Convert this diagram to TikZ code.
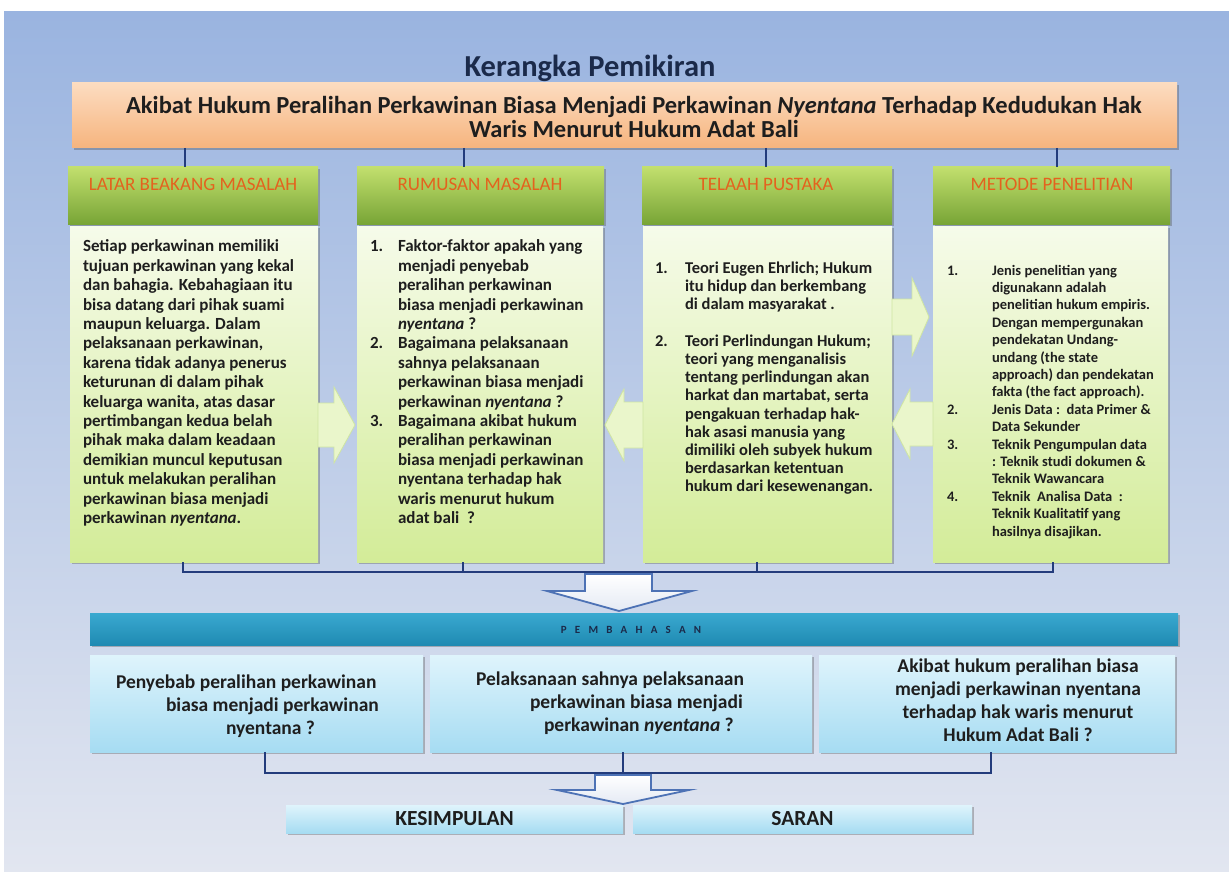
\documentclass[tikz,border=0pt]{standalone}
\usepackage{fontspec}
\setmainfont{Carlito}
\usetikzlibrary{shadows}

\definecolor{bgtop}{HTML}{9AB4E0}
\definecolor{bgmid}{HTML}{BFCDEA}
\definecolor{bgbot}{HTML}{E2E6F0}
\definecolor{orgtop}{HTML}{FCDCC0}
\definecolor{orgbot}{HTML}{F6B47E}
\definecolor{grntop}{HTML}{C2DF6E}
\definecolor{grnbot}{HTML}{78A536}
\definecolor{bodytop}{HTML}{F6FBEA}
\definecolor{bodybot}{HTML}{D3EC98}
\definecolor{arrfill}{HTML}{EAF6CB}
\definecolor{arrline}{HTML}{CFE5A2}
\definecolor{navy}{HTML}{233C7C}
\definecolor{hdrtxt}{HTML}{E4621E}
\definecolor{txt}{HTML}{1E1E1E}
\definecolor{bartop}{HTML}{3AA9D0}
\definecolor{barmid}{HTML}{6FCBE6}
\definecolor{barbot}{HTML}{1F8AB2}
\definecolor{cyntop}{HTML}{DFF4FC}
\definecolor{cynbot}{HTML}{A6DCF2}
\definecolor{arrblue}{HTML}{4D72B5}
\definecolor{ttl}{HTML}{1B2A4A}

% numbered list helpers
\newcommand\lnum[2]{\makebox[#1][l]{#2}}
\newcommand\lind[1]{\hspace*{#1}}

\begin{document}
\begin{tikzpicture}[x=1pt,y=-1pt,
  every node/.style={inner sep=0pt,outer sep=0pt},
  boxshadow/.style={drop shadow={shadow xshift=1.5pt,shadow yshift=-2pt,opacity=.35,fill=black!70}},
  topbox/.style={rectangle,anchor=north west,top color=orgtop,bottom color=orgbot,boxshadow},
  hdrbox/.style={rectangle,anchor=north west,minimum height=57pt,top color=grntop,bottom color=grnbot,boxshadow},
  bodybox/.style={rectangle,anchor=north west,minimum height=336pt,top color=bodytop,bottom color=bodybot,boxshadow},
  hdrlabel/.style={text=hdrtxt,font=\fontsize{19}{21}\selectfont},
  coltext/.style={anchor=north west,align=left,text=txt},
  conn/.style={draw=navy,line width=2.6pt},
  blockarrow/.style={fill=arrfill,draw=arrline,line width=0.8pt},
  downarrow/.style={top color=white,bottom color=white!85!arrblue,draw=arrblue,line width=1.8pt,line join=miter},
  cyanbox/.style={rectangle,anchor=north west,top color=cyntop,bottom color=cynbot,boxshadow},
  cyantext/.style={text=txt,font=\fontsize{19.5}{23}\selectfont\bfseries}
]
\useasboundingbox (0,0) rectangle (1229,872);

% page background
\fill[white] (0,0) rectangle (1229,872);
\shade[top color=bgtop,middle color=bgmid,bottom color=bgbot] (4,12) rectangle (1229,872);

% heading
\node[text=ttl,font=\fontsize{30.5}{33}\selectfont\bfseries] (title) at (590,68) {Kerangka Pemikiran};

\node[topbox,minimum width=1105pt,minimum height=65pt] (topic) at (72,83) {};
\node[align=center,text=txt,font=\fontsize{24.5}{24}\selectfont\bfseries] (topictext) at (634,117)
  {Akibat Hukum Peralihan Perkawinan Biasa Menjadi Perkawinan \textit{Nyentana} Terhadap Kedudukan Hak\\
   Waris Menurut Hukum Adat Bali};

% column headers
\node[hdrbox,minimum width=250pt] (h1) at (68,167) {};
\node[hdrbox,minimum width=247pt] (h2) at (357,167) {};
\node[hdrbox,minimum width=250pt] (h3) at (642,167) {};
\node[hdrbox,minimum width=237pt] (h4) at (933,167) {};
\node[hdrlabel] (h1l) at (193,184) {LATAR BEAKANG MASALAH};
\node[hdrlabel] (h2l) at (480,184) {RUMUSAN MASALAH};
\node[hdrlabel] (h3l) at (766,184) {TELAAH PUSTAKA};
\node[hdrlabel] (h4l) at (1052,184) {METODE PENELITIAN};

% column bodies
\node[bodybox,minimum width=248pt] (b1) at (70,226) {};
\node[bodybox,minimum width=246pt] (b2) at (357,226) {};
\node[bodybox,minimum width=249pt] (b3) at (643,226) {};
\node[bodybox,minimum width=235pt] (b4) at (933,226) {};

% connectors from the topic to the headers
\coordinate (k1) at (185,0);
\coordinate (k2) at (464,0);
\coordinate (k3) at (766,0);
\coordinate (k4) at (1057,0);
\draw[conn] (topic.south -| k1) -- (h1.north -| k1);
\draw[conn] (topic.south -| k2) -- (h2.north -| k2);
\draw[conn] (topic.south -| k3) -- (h3.north -| k3);
\draw[conn] (topic.south -| k4) -- (h4.north -| k4);

% column texts
\node[coltext,font=\fontsize{17}{19.4}\selectfont\bfseries] (t1) at (83,240)
 {Setiap perkawinan memiliki\\
  tujuan perkawinan yang kekal\\
  dan bahagia. Kebahagiaan itu\\
  bisa datang dari pihak suami\\
  maupun keluarga. Dalam\\
  pelaksanaan perkawinan,\\
  karena tidak adanya penerus\\
  keturunan di dalam pihak\\
  keluarga wanita, atas dasar\\
  pertimbangan kedua belah\\
  pihak maka dalam keadaan\\
  demikian muncul keputusan\\
  untuk melakukan peralihan\\
  perkawinan biasa menjadi\\
  perkawinan \textit{nyentana}.};

\node[coltext,font=\fontsize{17}{19.4}\selectfont\bfseries] (t2) at (370,240)
 {\lnum{28pt}{1.}Faktor-faktor apakah yang\\
  \lind{28pt}menjadi penyebab\\
  \lind{28pt}peralihan perkawinan\\
  \lind{28pt}biasa menjadi perkawinan\\
  \lind{28pt}\textit{nyentana} ?\\
  \lnum{28pt}{2.}Bagaimana pelaksanaan\\
  \lind{28pt}sahnya pelaksanaan\\
  \lind{28pt}perkawinan biasa menjadi\\
  \lind{28pt}perkawinan \textit{nyentana} ?\\
  \lnum{28pt}{3.}Bagaimana akibat hukum\\
  \lind{28pt}peralihan perkawinan\\
  \lind{28pt}biasa menjadi perkawinan\\
  \lind{28pt}nyentana terhadap hak\\
  \lind{28pt}waris menurut hukum\\
  \lind{28pt}adat bali\ \ ?};

\node[coltext,font=\fontsize{16.5}{18.2}\selectfont\bfseries] (t3) at (655,262)
 {\lnum{30pt}{1.}Teori Eugen Ehrlich; Hukum\\
  \lind{30pt}itu hidup dan berkembang\\
  \lind{30pt}di dalam masyarakat .\\[18.2pt]
  \lnum{30pt}{2.}Teori Perlindungan Hukum;\\
  \lind{30pt}teori yang menganalisis\\
  \lind{30pt}tentang perlindungan akan\\
  \lind{30pt}harkat dan martabat, serta\\
  \lind{30pt}pengakuan terhadap hak-\\
  \lind{30pt}hak asasi manusia yang\\
  \lind{30pt}dimiliki oleh subyek hukum\\
  \lind{30pt}berdasarkan ketentuan\\
  \lind{30pt}hukum dari kesewenangan.};

\node[coltext,font=\fontsize{14.5}{17.4}\selectfont\bfseries] (t4) at (947,265)
 {\lnum{45pt}{1.}Jenis penelitian yang\\
  \lind{45pt}digunakann adalah\\
  \lind{45pt}penelitian hukum empiris.\\
  \lind{45pt}Dengan mempergunakan\\
  \lind{45pt}pendekatan Undang-\\
  \lind{45pt}undang (the state\\
  \lind{45pt}approach) dan pendekatan\\
  \lind{45pt}fakta (the fact approach).\\
  \lnum{45pt}{2.}Jenis Data :\ \ data Primer \&\\
  \lind{45pt}Data Sekunder\\
  \lnum{45pt}{3.}Teknik Pengumpulan data\\
  \lind{45pt}: Teknik studi dokumen \&\\
  \lind{45pt}Teknik Wawancara\\
  \lnum{45pt}{4.}Teknik\ \ Analisa Data\ \ :\\
  \lind{45pt}Teknik Kualitatif yang\\
  \lind{45pt}hasilnya disajikan.};

% block arrows between the columns
\draw[blockarrow] (318,403) -- (334,403) -- (334,387) -- (355,425) -- (334,463) -- (334,447) -- (318,447) -- cycle;
\draw[blockarrow] (643,402) -- (624,402) -- (624,389) -- (605,425) -- (624,461) -- (624,448) -- (643,448) -- cycle;
\draw[blockarrow] (892,299) -- (912,299) -- (912,278) -- (929,317) -- (912,356) -- (912,335) -- (892,335) -- cycle;
\draw[blockarrow] (933,402) -- (910,402) -- (910,389) -- (892,424) -- (910,459) -- (910,446) -- (933,446) -- cycle;

% bracket joining the columns
\coordinate (m1) at (183,0);
\coordinate (m2) at (463,0);
\coordinate (m3) at (757,0);
\coordinate (m4) at (1053,0);
\coordinate (brk) at (0,572);
\draw[conn,line join=miter] (b1.south -| m1) |- (brk -| m4) -- (b4.south -| m4);
\draw[conn] (b2.south -| m2) -- (brk -| m2);
\draw[conn] (b3.south -| m3) -- (brk -| m3);

% first down arrow
\draw[downarrow] (585,574) -- (652,574) -- (652,591) -- (692,591) -- (619,611) -- (547,591) -- (585,591) -- cycle;

% discussion bar
\node[rectangle,anchor=north west,minimum width=1088pt,minimum height=32pt,
      top color=bartop,middle color=barmid,bottom color=barbot,boxshadow] (pbar) at (90,613) {};
\node[text=ttl,font=\fontsize{11}{12}\selectfont\bfseries\addfontfeatures{LetterSpace=75}] (pbarl) at (631,630) {PEMBAHASAN};

% discussion boxes
\node[cyanbox,minimum width=333pt,minimum height=97pt] (p1) at (90,655) {};
\node[cyanbox,minimum width=382pt,minimum height=97pt] (p2) at (430,655) {};
\node[cyanbox,minimum width=356pt,minimum height=97pt] (p3) at (819,655) {};
\node[cyantext,anchor=north west,align=left] (p1t) at (116,675)
  {Penyebab peralihan perkawinan\\
   \hspace*{50pt}biasa menjadi perkawinan\\
   \hspace*{110pt}nyentana ?};
\node[cyantext,anchor=north west,align=left] (p2t) at (476,672)
  {Pelaksanaan sahnya pelaksanaan\\
   \hspace*{54pt}perkawinan biasa menjadi\\
   \hspace*{68pt}perkawinan \textit{nyentana} ?};
\node[cyantext,align=center] (p3t) at (1018,700)
  {Akibat hukum peralihan biasa\\
   menjadi perkawinan nyentana\\
   terhadap hak waris menurut\\
   Hukum Adat Bali ?};

% second bracket and down arrow
\coordinate (n1) at (265,0);
\coordinate (n2) at (623,0);
\coordinate (n3) at (991,0);
\coordinate (brk2) at (0,773);
\draw[conn,line join=miter] (p1.south -| n1) |- (brk2 -| n3) -- (p3.south -| n3);
\draw[conn] (p2.south -| n2) -- (brk2 -| n2);
\draw[downarrow] (595,775) -- (651,775) -- (651,790) -- (689,790) -- (623,804) -- (557,790) -- (595,790) -- cycle;

% conclusion boxes
\node[cyanbox,minimum width=337pt,minimum height=28pt] (kes) at (286,805) {};
\node[cyanbox,minimum width=339pt,minimum height=28pt] (sar) at (633,805) {};
\node[text=txt,font=\fontsize{21.5}{23}\selectfont\bfseries] (kesl) at (kes.center) {KESIMPULAN};
\node[text=txt,font=\fontsize{21.5}{23}\selectfont\bfseries] (sarl) at (sar.center) {SARAN};
\end{tikzpicture}
\end{document}
